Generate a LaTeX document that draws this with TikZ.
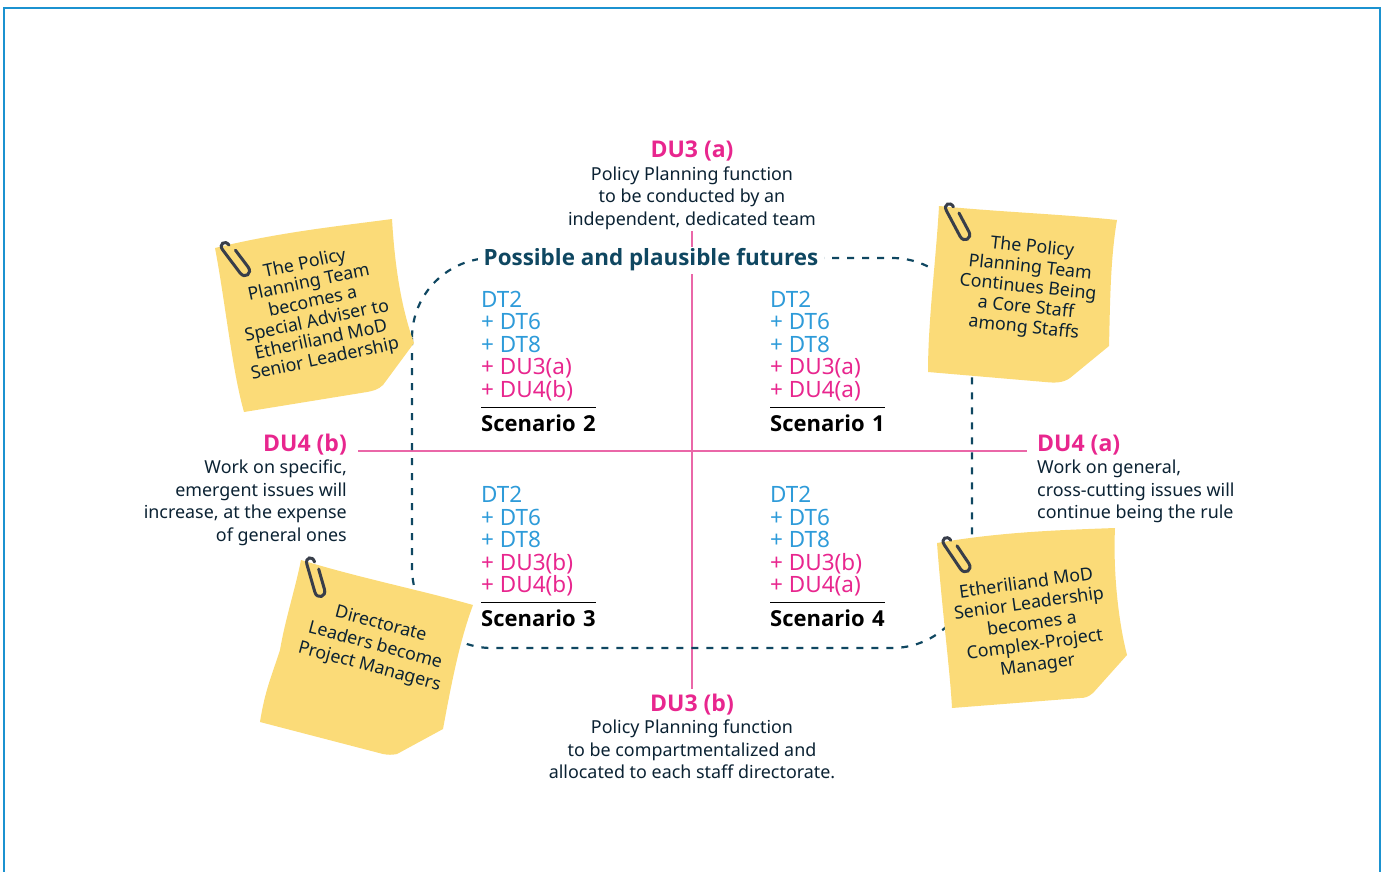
\documentclass[tikz,border=0pt]{standalone}
\usepackage{fontspec}
\setmainfont{Noto Sans}
\newfontfamily\headfont{Open Sans}
\usepackage{tikz}
\usetikzlibrary{positioning}
\definecolor{frameblue}{HTML}{1B92D0}
\definecolor{dtblue}{HTML}{2E9BD9}
\definecolor{dupink}{HTML}{E8268E}
\definecolor{linepink}{HTML}{EA67A8}
\definecolor{deepteal}{HTML}{0F4761}
\definecolor{inkdark}{HTML}{0B2233}
\definecolor{stickyyellow}{HTML}{FBDB78}
\definecolor{clipgrey}{HTML}{383E4A}
\tikzset{%
	du-head/.style={
		text=dupink,
		inner sep=0pt,
		font=\headfont\fontsize{23}{24}\selectfont\bfseries
	},
	du-text/.style={
		text=inkdark,
		inner sep=0pt,
		font=\fontsize{17.9}{22.4}\selectfont
	},
	dt-list/.style={
		anchor=north west,
		inner sep=0pt,
		align=left,
		font=\fontsize{22.5}{22.5}\selectfont
	},
	scenario-name/.style={
		anchor=north west,
		inner xsep=0pt,
		inner ysep=8pt,
		text width=115pt,
		font=\headfont\fontsize{22}{23}\selectfont\bfseries
	},
	sticky/.style={ fill=stickyyellow },
	sticky-text/.style={
		text=inkdark,
		inner sep=0pt,
		align=center
	},
	paperclip/.pic={
		\draw[clipgrey, line width=3pt, line cap=round]
			(5,14) -- (5,35) .. controls (5,43) and (-5,43) .. (-5,35)
			-- (-5,6) .. controls (-5,-1) and (3,-1) .. (3,6);
	},
}
\begin{document}
\begin{tikzpicture}[x=1pt, y=-1pt]
\useasboundingbox (0,0) rectangle (1386,871);
% frame
\draw[frameblue, line width=1.4pt] (4,880) -- (4,8) -- (1380,8) -- (1380,880);

% axis ends
\coordinate (axis-top) at (692,231);
\coordinate (axis-bottom) at (692,689);
\coordinate (axis-left) at (358,451);
\coordinate (axis-right) at (1027,451);
\draw[linepink, line width=1.4pt] (axis-top) -- (axis-bottom);
\draw[linepink, line width=1.4pt] (axis-left) -- (axis-right);

% futures outline
\draw[deepteal, line width=2.2pt, dash pattern=on 7pt off 8pt, rounded corners=80pt]
	(412,258) rectangle (972,648);
\node[fill=white, inner xsep=6pt, inner ysep=0pt, minimum height=27pt, text=deepteal,
	font=\headfont\fontsize{22.4}{22}\selectfont\bfseries] (futures) at (651,260) {Possible and plausible futures};

% uncertainty labels
\node[du-head] (du3a) at (692,151) {DU3 (a)};
\node[du-text, align=center, below=5pt of du3a.south] (du3a-text) {Policy Planning function\\to be conducted by an\\independent, dedicated team};
\node[du-head] (du3b) at (692,705) {DU3 (b)};
\node[du-text, align=center, below=4pt of du3b.south] (du3b-text) {Policy Planning function\\to be compartmentalized and\\allocated to each staff directorate.};
\node[du-head, anchor=east] (du4b) at (347,445) {DU4 (b)};
\node[du-text, align=right, anchor=north east] (du4b-text) at (347,460) {Work on specific,\\emergent issues will\\increase, at the expense\\of general ones};
\node[du-head, anchor=west] (du4a) at (1037,445) {DU4 (a)};
\node[du-text, align=left, anchor=north west] (du4a-text) at (1037,460) {Work on general,\\cross-cutting issues will\\continue being the rule};

% scenarios
\foreach \n/\x/\y/\a/\b in {2/481/291/a/b, 1/770/291/a/a, 3/481/486/b/b, 4/770/486/b/a} {
	\node[dt-list] (list-\n) at (\x,\y) {\textcolor{dtblue}{DT2}\\\textcolor{dtblue}{+ DT6}\\\textcolor{dtblue}{+ DT8}\\\textcolor{dupink}{+ DU3(\a)}\\\textcolor{dupink}{+ DU4(\b)}};
	\node[scenario-name] (name-\n) at (\x,\y+116) {Scenario \n};
	\draw[black, line width=0.9pt] (name-\n.north west) -- (name-\n.north east);
}

% sticky notes
\path[sticky] (215,248) .. controls (280,232) and (340,226) .. (392,219)
	.. controls (395,270) and (402,310) .. (414,343) -- (383,385)
	.. controls (378,390) and (372,391) .. (367,392) -- (244,412)
	.. controls (232,370) and (225,300) .. (215,248) -- cycle;
\node[sticky-text, rotate=12, font=\fontsize{17.8}{19.5}\selectfont] (note-2) at (315,312) {The Policy\\Planning Team\\becomes a\\Special Adviser to\\Etheriliand MoD\\Senior Leadership};
\pic[rotate=37] at (223,242) {paperclip};

\path[sticky] (939,206) .. controls (1000,212) and (1060,214) .. (1117,220)
	.. controls (1110,260) and (1110,310) .. (1109,346) -- (1070,378)
	.. controls (1063,383) and (1055,383) .. (1045,382) -- (928,372)
	.. controls (928,320) and (936,260) .. (939,206) -- cycle;
\node[sticky-text, rotate=-6, font=\fontsize{17.8}{20.2}\selectfont] (note-1) at (1028,288) {The Policy\\Planning Team\\Continues Being\\a Core Staff\\among Staffs};
\pic[rotate=28] at (948,203) {paperclip};

\path[sticky] (301,560) .. controls (360,578) and (420,590) .. (473,605)
	.. controls (460,640) and (452,680) .. (443,729) -- (397,754)
	.. controls (392,755) and (388,755) .. (383,754) -- (260,722)
	.. controls (265,690) and (272,675) .. (280,650) .. controls (285,620) and (295,590) .. (301,560) -- cycle;
\node[sticky-text, rotate=-15, font=\fontsize{17.8}{22}\selectfont] (note-3) at (375,646) {Directorate\\Leaders become\\Project Managers};
\pic[rotate=16] at (310,557) {paperclip};

\path[sticky] (937,543) .. controls (1000,532) and (1060,530) .. (1115,528)
	.. controls (1113,570) and (1118,620) .. (1127,655) -- (1093,693)
	.. controls (1088,697) and (1085,698) .. (1080,698) -- (952,708)
	.. controls (950,670) and (942,610) .. (937,543) -- cycle;
\node[sticky-text, rotate=8, font=\fontsize{17.8}{20.6}\selectfont] (note-4) at (1032,625) {Etheriliand MoD\\Senior Leadership\\becomes a\\Complex-Project\\Manager};
\pic[rotate=34] at (945,537) {paperclip};

\end{tikzpicture}
\end{document}
